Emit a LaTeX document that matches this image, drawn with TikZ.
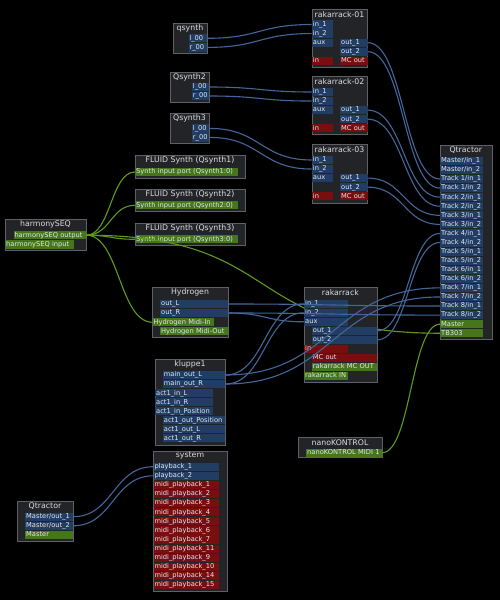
\documentclass[tikz,border=0pt]{standalone}
\usepackage{fontspec}
\setmainfont{DejaVu Sans}
\usetikzlibrary{calc}
\definecolor{boxf}{HTML}{222427}
\definecolor{bord}{HTML}{5D6064}
\definecolor{pblue}{HTML}{223D63}
\definecolor{pred}{HTML}{790E0E}
\definecolor{pgreen}{HTML}{45761A}
\definecolor{ttxt}{HTML}{DCDCDC}
\definecolor{ptxt}{HTML}{E2E7F0}
\definecolor{wblue}{HTML}{44669A}
\definecolor{wgreen}{HTML}{5E9A22}
\newcommand\pfnt{\fontsize{6.7}{7}\selectfont}
\newcommand\tfnt{\fontsize{7.8}{8}\selectfont}
\newcommand\wire[3]{\draw[#1] let \p1=(#2.east), \p2=(#3.west), \n1={max(abs(\x2-\x1)/2,8pt)} in (\p1) .. controls +(\n1,0pt) and +(-\n1,0pt) .. (\p2);}
\tikzset{
  box/.style={draw=bord, fill=boxf, line width=0.9pt, anchor=north west, inner sep=0pt},
  ttl/.style={text=ttxt, font=\tfnt, inner sep=0pt},
  pcell/.style={text=ptxt, font=\pfnt, anchor=west, inner xsep=1pt, inner ysep=0pt, minimum height=8.2pt, text height=5pt, text depth=1.3pt, align=left},
  pb/.style={pcell, fill=pblue},
  pr/.style={pcell, fill=pred},
  pg/.style={pcell, fill=pgreen},
  bw/.style={draw=wblue, line width=1.1pt},
  gw/.style={draw=wgreen, line width=1.1pt},
}
\begin{document}
\begin{tikzpicture}[x=1pt, y=-1pt]
\fill[black] (0,0) rectangle (500,600);
\useasboundingbox (0,0) rectangle (500,600);

% qsynth
\node[box, minimum width=33.4pt, minimum height=30pt] (qs1) at (173.3,22.5) {};
\node[ttl] (qs1-t) at (190,28) {qsynth};
\node[pb, text width=16.4pt] (qs1-l) at (188.3,38.3) {l\_00};
\node[pb, text width=16.4pt] (qs1-r) at (188.3,47.4) {r\_00};
% Qsynth2
\node[box, minimum width=39pt, minimum height=30pt] (qs2) at (170,71.7) {};
\node[ttl] (qs2-t) at (189.5,77) {Qsynth2};
\node[pb, text width=15.3pt] (qs2-l) at (191.7,87) {l\_00};
\node[pb, text width=15.3pt] (qs2-r) at (191.7,96) {r\_00};
% Qsynth3
\node[box, minimum width=39pt, minimum height=30pt] (qs3) at (170,113.3) {};
\node[ttl] (qs3-t) at (189.5,118.7) {Qsynth3};
\node[pb, text width=15.3pt] (qs3-l) at (191.7,128.4) {l\_00};
\node[pb, text width=15.3pt] (qs3-r) at (191.7,137.4) {r\_00};

% rakarrack-01
\node[box, minimum width=55.6pt, minimum height=58pt] (r1) at (311.7,8.5) {};
\node[ttl] (r1-t) at (339.5,14.3) {rakarrack-01};
\node[pb, text width=19pt] (r1-in1) at (311.7,24.5) {in\_1};
\node[pb, text width=19pt] (r1-in2) at (311.7,33.55) {in\_2};
\node[pb, text width=19pt] (r1-aux) at (311.7,42.6) {aux};
\node[pb, text width=25.3pt] (r1-o1) at (340,42.6) {out\_1};
\node[pb, text width=25.3pt] (r1-o2) at (340,51.65) {out\_2};
\node[pr, text width=19pt] (r1-mi) at (311.7,60.7) {in};
\node[pr, text width=25.3pt] (r1-mo) at (340,60.7) {MC out};
% rakarrack-02
\node[box, minimum width=55.6pt, minimum height=58pt] (r2) at (311.7,76) {};
\node[ttl] (r2-t) at (339.5,81.8) {rakarrack-02};
\node[pb, text width=19pt] (r2-in1) at (311.7,92) {in\_1};
\node[pb, text width=19pt] (r2-in2) at (311.7,101.05) {in\_2};
\node[pb, text width=19pt] (r2-aux) at (311.7,110.1) {aux};
\node[pb, text width=25.3pt] (r2-o1) at (340,110.1) {out\_1};
\node[pb, text width=25.3pt] (r2-o2) at (340,119.15) {out\_2};
\node[pr, text width=19pt] (r2-mi) at (311.7,128.2) {in};
\node[pr, text width=25.3pt] (r2-mo) at (340,128.2) {MC out};
% rakarrack-03
\node[box, minimum width=55.6pt, minimum height=58.5pt] (r3) at (311.7,144) {};
\node[ttl] (r3-t) at (339.5,149.6) {rakarrack-03};
\node[pb, text width=19pt] (r3-in1) at (311.7,160) {in\_1};
\node[pb, text width=19pt] (r3-in2) at (311.7,169.05) {in\_2};
\node[pb, text width=19pt] (r3-aux) at (311.7,178.1) {aux};
\node[pb, text width=25.3pt] (r3-o1) at (340,178.1) {out\_1};
\node[pb, text width=25.3pt] (r3-o2) at (340,187.15) {out\_2};
\node[pr, text width=19pt] (r3-mi) at (311.7,196.2) {in};
\node[pr, text width=25.3pt] (r3-mo) at (340,196.2) {MC out};

% FLUID synths
\node[box, minimum width=110pt, minimum height=22.5pt] (fs1) at (135,155) {};
\node[ttl] (fs1-t) at (190,160.3) {FLUID Synth (Qsynth1)};
\node[pg, text width=100.5pt] (fs1-p) at (135,172) {Synth input port (Qsynth1:0)};
\node[box, minimum width=110pt, minimum height=22pt] (fs2) at (135,189.3) {};
\node[ttl] (fs2-t) at (190,194.5) {FLUID Synth (Qsynth2)};
\node[pg, text width=100.5pt] (fs2-p) at (135,205.3) {Synth input port (Qsynth2:0)};
\node[box, minimum width=110pt, minimum height=22pt] (fs3) at (135,223.3) {};
\node[ttl] (fs3-t) at (190,228.5) {FLUID Synth (Qsynth3)};
\node[pg, text width=100.5pt] (fs3-p) at (135,239.3) {Synth input port (Qsynth3:0)};

% harmonySEQ
\node[box, minimum width=81pt, minimum height=31pt] (hs) at (5,219) {};
\node[ttl] (hs-t) at (45.5,224.5) {harmonySEQ};
\node[pg, text width=70.7pt] (hs-out) at (13.3,235.2) {harmonySEQ output};
\node[pg, text width=66.3pt] (hs-in) at (5,244.4) {harmonySEQ input};

% Hydrogen
\node[box, minimum width=75.4pt, minimum height=49.4pt] (hy) at (152.3,287.3) {};
\node[ttl] (hy-t) at (190,292.5) {Hydrogen};
\node[pb, text width=65.7pt] (hy-L) at (160,304) {out\_L};
\node[pb, text width=65.7pt] (hy-R) at (160,313) {out\_R};
\node[pg, text width=59.7pt] (hy-mi) at (152.3,322.2) {Hydrogen Midi-In};
\node[pg, text width=65.7pt] (hy-mo) at (160,331.2) {Hydrogen Midi-Out};

% kluppe
\node[box, minimum width=70pt, minimum height=85.7pt] (kl) at (155,359.3) {};
\node[ttl] (kl-t) at (190,364.5) {kluppe1};
\node[pb, text width=60.3pt] (kl-L) at (162.7,375) {main\_out\_L};
\node[pb, text width=60.3pt] (kl-R) at (162.7,384) {main\_out\_R};
\node[pb, text width=55.7pt] (kl-iL) at (155,393.2) {act1\_in\_L};
\node[pb, text width=55.7pt] (kl-iR) at (155,402.2) {act1\_in\_R};
\node[pb, text width=55.7pt] (kl-iP) at (155,411.2) {act1\_in\_Position};
\node[pb, text width=60.3pt] (kl-oP) at (162.7,420.2) {act1\_out\_Position};
\node[pb, text width=60.3pt] (kl-oL) at (162.7,429.2) {act1\_out\_L};
\node[pb, text width=60.3pt] (kl-oR) at (162.7,438.2) {act1\_out\_R};

% Qtractor (right)
\node[box, minimum width=51.7pt, minimum height=194pt] (qt) at (440,145) {};
\node[ttl] (qt-t) at (465.8,150.5) {Qtractor};
\node[pb, text width=41pt] (qt-m1) at (440,160.9) {Master/in\_1};
\node[pb, text width=41pt] (qt-m2) at (440,169.97) {Master/in\_2};
\node[pb, text width=41pt] (qt-1a) at (440,179.04) {Track 1/in\_1};
\node[pb, text width=41pt] (qt-1b) at (440,188.11) {Track 1/in\_2};
\node[pb, text width=41pt] (qt-2a) at (440,197.18) {Track 2/in\_1};
\node[pb, text width=41pt] (qt-2b) at (440,206.25) {Track 2/in\_2};
\node[pb, text width=41pt] (qt-3a) at (440,215.32) {Track 3/in\_1};
\node[pb, text width=41pt] (qt-3b) at (440,224.39) {Track 3/in\_2};
\node[pb, text width=41pt] (qt-4a) at (440,233.46) {Track 4/in\_1};
\node[pb, text width=41pt] (qt-4b) at (440,242.53) {Track 4/in\_2};
\node[pb, text width=41pt] (qt-5a) at (440,251.6) {Track 5/in\_1};
\node[pb, text width=41pt] (qt-5b) at (440,260.67) {Track 5/in\_2};
\node[pb, text width=41pt] (qt-6a) at (440,269.74) {Track 6/in\_1};
\node[pb, text width=41pt] (qt-6b) at (440,278.81) {Track 6/in\_2};
\node[pb, text width=41pt] (qt-7a) at (440,287.88) {Track 7/in\_1};
\node[pb, text width=41pt] (qt-7b) at (440,296.95) {Track 7/in\_2};
\node[pb, text width=41pt] (qt-8a) at (440,306.02) {Track 8/in\_1};
\node[pb, text width=41pt] (qt-8b) at (440,315.09) {Track 8/in\_2};
\node[pg, text width=41pt] (qt-master) at (440,324.16) {Master};
\node[pg, text width=41pt] (qt-tb) at (440,333.23) {TB303};

% nanoKONTROL
\node[box, minimum width=83.4pt, minimum height=20pt] (nk) at (298.3,437.3) {};
\node[ttl] (nk-t) at (340,442.3) {nanoKONTROL};
\node[pg, text width=73.7pt] (nk-p) at (306,452.7) {nanoKONTROL MIDI 1};

% system
\node[box, minimum width=73.4pt, minimum height=140pt] (sys) at (153.3,450.7) {};
\node[ttl] (sys-t) at (190,456) {system};
\node[pb, text width=63pt] (sys-p1) at (153.3,466.7) {playback\_1};
\node[pb, text width=63pt] (sys-p2) at (153.3,475.8) {playback\_2};
\node[pr, text width=63pt] (sys-m1) at (153.3,484.9) {midi\_playback\_1};
\node[pr, text width=63pt] (sys-m2) at (153.3,494.0) {midi\_playback\_2};
\node[pr, text width=63pt] (sys-m3) at (153.3,503.1) {midi\_playback\_3};
\node[pr, text width=63pt] (sys-m4) at (153.3,512.2) {midi\_playback\_4};
\node[pr, text width=63pt] (sys-m5) at (153.3,521.3) {midi\_playback\_5};
\node[pr, text width=63pt] (sys-m6) at (153.3,530.4) {midi\_playback\_6};
\node[pr, text width=63pt] (sys-m7) at (153.3,539.5) {midi\_playback\_7};
\node[pr, text width=63pt] (sys-m11) at (153.3,548.6) {midi\_playback\_11};
\node[pr, text width=63pt] (sys-m9) at (153.3,557.7) {midi\_playback\_9};
\node[pr, text width=63pt] (sys-m10) at (153.3,566.8) {midi\_playback\_10};
\node[pr, text width=63pt] (sys-m14) at (153.3,575.9) {midi\_playback\_14};
\node[pr, text width=63pt] (sys-m15) at (153.3,585.0) {midi\_playback\_15};

% Qtractor (small)
\node[box, minimum width=55.4pt, minimum height=40pt] (qts) at (17.3,500.7) {};
\node[ttl] (qts-t) at (45,506) {Qtractor};
\node[pb, text width=45.7pt] (qts-o1) at (25,516.7) {Master/out\_1};
\node[pb, text width=45.7pt] (qts-o2) at (25,525.8) {Master/out\_2};
\node[pg, text width=45.7pt] (qts-m) at (25,535) {Master};

% long MIDI wire, partly hidden by rakarrack
\draw[gw] (hs-out.east) .. controls +(200pt,0pt) and +(-200pt,0pt) .. (qt-tb.west);

% rakarrack
\node[box, minimum width=72.7pt, minimum height=94.4pt] (rk) at (304,287.3) {};
\node[ttl] (rk-t) at (340.3,292.5) {rakarrack};
\node[pb, text width=41.7pt] (rk-in1) at (304,303.8) {in\_1};
\node[pb, text width=41.7pt] (rk-in2) at (304,312.8) {in\_2};
\node[pb, text width=41.7pt] (rk-aux) at (304,321.8) {aux};
\node[pb, text width=63pt] (rk-o1) at (311.7,330.9) {out\_1};
\node[pb, text width=63pt] (rk-o2) at (311.7,339.9) {out\_2};
\node[pr, text width=41.7pt] (rk-mi) at (304,348.9) {in};
\node[pr, text width=63pt] (rk-mo) at (311.7,357.9) {MC out};
\node[pg, text width=63pt] (rk-MO) at (311.7,366.9) {rakarrack MC OUT};
\node[pg, text width=41.7pt] (rk-IN) at (304,376) {rakarrack IN};

% audio wires
\wire{bw}{qs1-l}{r1-in1}
\wire{bw}{qs1-r}{r1-in2}
\wire{bw}{qs2-l}{r2-in1}
\wire{bw}{qs2-r}{r2-in2}
\wire{bw}{qs3-l}{r3-in1}
\wire{bw}{qs3-r}{r3-in2}
\wire{bw}{r1-o1}{qt-1a}
\wire{bw}{r1-o2}{qt-1b}
\wire{bw}{r2-o1}{qt-2a}
\wire{bw}{r2-o2}{qt-2b}
\wire{bw}{r3-o1}{qt-3a}
\wire{bw}{r3-o2}{qt-3b}
\wire{bw}{rk-o1}{qt-4a}
\wire{bw}{rk-o2}{qt-4b}
\wire{bw}{kl-L}{qt-7a}
\wire{bw}{kl-R}{qt-7b}
\wire{bw}{kl-L}{rk-in1}
\wire{bw}{kl-R}{rk-in2}
\wire{bw}{hy-L}{qt-8a}
\wire{bw}{hy-R}{qt-8b}
\wire{bw}{hy-R}{rk-aux}
\wire{bw}{qts-o1}{sys-p1}
\wire{bw}{qts-o2}{sys-p2}
% MIDI wires
\wire{gw}{hs-out}{fs1-p}
\wire{gw}{hs-out}{fs2-p}
\wire{gw}{hs-out}{fs3-p}
\wire{gw}{hs-out}{hy-mi}
\wire{gw}{nk-p}{qt-master}
\end{tikzpicture}
\end{document}
